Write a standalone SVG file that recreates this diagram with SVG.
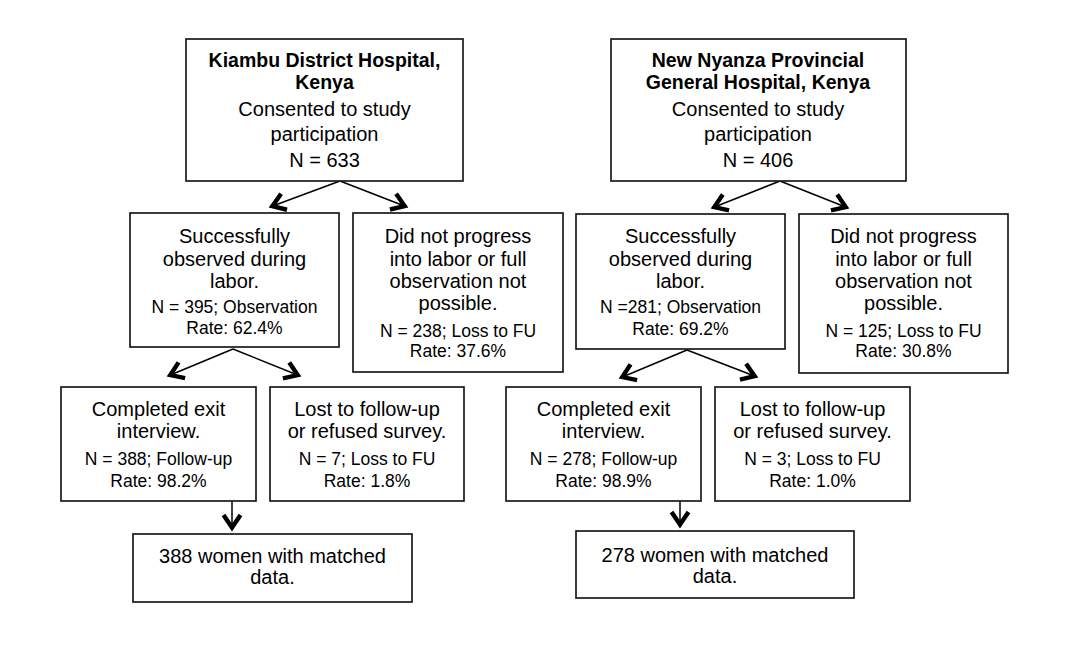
<svg xmlns="http://www.w3.org/2000/svg" width="1080" height="666" viewBox="0 0 1080 666">
<style>
.box{fill:#fff;stroke:#1a1a1a;stroke-width:1.7}
text{font-family:"Liberation Sans",Arial,sans-serif;fill:#000;text-anchor:middle}
.b{font-size:19.5px;font-weight:bold}
.m{font-size:20px}
.s{font-size:17.5px}
.c{stroke:#000;stroke-width:1.5;fill:none}
</style>
<defs>
<marker id="ah" markerUnits="userSpaceOnUse" viewBox="-22 -12 26 24" markerWidth="26" markerHeight="24" refX="0" refY="0" orient="auto">
<path d="M-15,-8.5 L-2.5,0 L-15,8.5" fill="none" stroke="#000" stroke-width="4.4"/>
</marker>
</defs>
<rect width="1080" height="666" fill="#fff"/>
<g id="connectors">
<line class="c" x1="340" y1="181" x2="270" y2="207" marker-end="url(#ah)"/>
<line class="c" x1="340" y1="181" x2="407" y2="207" marker-end="url(#ah)"/>
<line class="c" x1="780" y1="181" x2="712" y2="208" marker-end="url(#ah)"/>
<line class="c" x1="780" y1="181" x2="848" y2="208" marker-end="url(#ah)"/>
<line class="c" x1="233" y1="349" x2="168" y2="376" marker-end="url(#ah)"/>
<line class="c" x1="233" y1="349" x2="300" y2="376" marker-end="url(#ah)"/>
<line class="c" x1="687" y1="350" x2="620" y2="378" marker-end="url(#ah)"/>
<line class="c" x1="687" y1="350" x2="757" y2="377" marker-end="url(#ah)"/>
<line class="c" x1="232" y1="501" x2="232" y2="530" marker-end="url(#ah)"/>
<line class="c" x1="680" y1="501" x2="680" y2="527" marker-end="url(#ah)"/>
</g>
<g id="kiambu">
<rect class="box" x="186" y="39" width="277" height="142"/>
<text class="b" x="324.5" y="67">Kiambu District Hospital,</text>
<text class="b" x="324.5" y="89">Kenya</text>
<text class="m" x="324.5" y="116">Consented to study</text>
<text class="m" x="324.5" y="141">participation</text>
<text class="m" x="324.5" y="166.5">N = 633</text>
</g>
<g id="nyanza">
<rect class="box" x="611" y="39" width="295" height="142"/>
<text class="b" x="758" y="67">New Nyanza Provincial</text>
<text class="b" x="758" y="89">General Hospital, Kenya</text>
<text class="m" x="758" y="116">Consented to study</text>
<text class="m" x="758" y="141">participation</text>
<text class="m" x="758" y="166.5">N = 406</text>
</g>
<g id="k-observed">
<rect class="box" x="130" y="213" width="209" height="134"/>
<text class="m" x="234.5" y="243">Successfully</text>
<text class="m" x="234.5" y="266">observed during</text>
<text class="m" x="234.5" y="288">labor.</text>
<text class="s" x="234.5" y="312.7">N = 395; Observation</text>
<text class="s" x="234.5" y="334.3">Rate: 62.4%</text>
</g>
<g id="k-notprogress">
<rect class="box" x="353" y="213" width="210" height="159"/>
<text class="m" x="458" y="243">Did not progress</text>
<text class="m" x="458" y="266">into labor or full</text>
<text class="m" x="458" y="288">observation not</text>
<text class="m" x="458" y="310">possible.</text>
<text class="s" x="458" y="336.7">N = 238; Loss to FU</text>
<text class="s" x="458" y="356.7">Rate: 37.6%</text>
</g>
<g id="n-observed">
<rect class="box" x="576" y="214" width="209" height="135"/>
<text class="m" x="680.5" y="243.3">Successfully</text>
<text class="m" x="680.5" y="266">observed during</text>
<text class="m" x="680.5" y="288.3">labor.</text>
<text class="s" x="680.5" y="313.3">N =281; Observation</text>
<text class="s" x="680.5" y="335">Rate: 69.2%</text>
</g>
<g id="n-notprogress">
<rect class="box" x="799" y="214" width="209" height="159"/>
<text class="m" x="903.5" y="243">Did not progress</text>
<text class="m" x="903.5" y="265.5">into labor or full</text>
<text class="m" x="903.5" y="287.5">observation not</text>
<text class="m" x="903.5" y="310">possible.</text>
<text class="s" x="903.5" y="336.7">N = 125; Loss to FU</text>
<text class="s" x="903.5" y="356.7">Rate: 30.8%</text>
</g>
<g id="k-completed">
<rect class="box" x="61" y="387" width="195" height="114"/>
<text class="m" x="158.5" y="416">Completed exit</text>
<text class="m" x="158.5" y="438.3">interview.</text>
<text class="s" x="158.5" y="465">N = 388; Follow-up</text>
<text class="s" x="158.5" y="486.7">Rate: 98.2%</text>
</g>
<g id="k-lost">
<rect class="box" x="270" y="387" width="194" height="114"/>
<text class="m" x="367" y="416">Lost to follow-up</text>
<text class="m" x="367" y="438.3">or refused survey.</text>
<text class="s" x="367" y="465">N = 7; Loss to FU</text>
<text class="s" x="367" y="486.7">Rate: 1.8%</text>
</g>
<g id="n-completed">
<rect class="box" x="506" y="387" width="195" height="114"/>
<text class="m" x="603.5" y="416">Completed exit</text>
<text class="m" x="603.5" y="438.3">interview.</text>
<text class="s" x="603.5" y="465">N = 278; Follow-up</text>
<text class="s" x="603.5" y="486.7">Rate: 98.9%</text>
</g>
<g id="n-lost">
<rect class="box" x="715" y="387" width="195" height="114"/>
<text class="m" x="812.5" y="416">Lost to follow-up</text>
<text class="m" x="812.5" y="438.3">or refused survey.</text>
<text class="s" x="812.5" y="465">N = 3; Loss to FU</text>
<text class="s" x="812.5" y="486.7">Rate: 1.0%</text>
</g>
<g id="k-matched">
<rect class="box" x="133" y="534" width="279" height="68"/>
<text class="m" x="272.5" y="562.7">388 women with matched</text>
<text class="m" x="272.5" y="584">data.</text>
</g>
<g id="n-matched">
<rect class="box" x="576" y="531" width="278" height="67"/>
<text class="m" x="715" y="561.7">278 women with matched</text>
<text class="m" x="715" y="582.7">data.</text>
</g>
</svg>
